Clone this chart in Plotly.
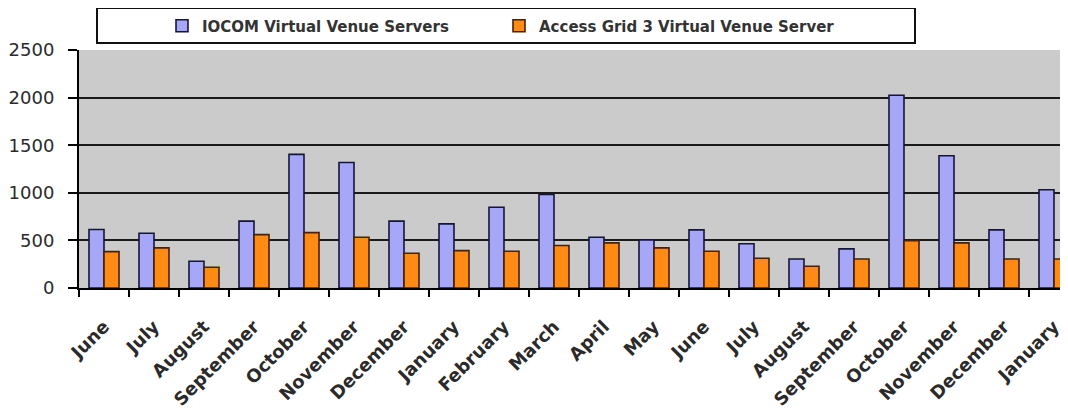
import plotly.graph_objects as go

months = ["June", "July", "August", "September", "October", "November", "December",
          "January", "February", "March", "April", "May", "June", "July", "August",
          "September", "October", "November", "December", "January"]
iocom = [614, 575, 281, 702, 1404, 1319, 702, 674, 849, 982, 533, 505, 611, 465,
         305, 411, 2025, 1389, 611, 1032]
ag3 = [382, 421, 218, 561, 582, 533, 365, 393, 386, 446, 474, 421, 386, 312,
       228, 305, 498, 474, 305, 305]
y_ticks = [0, 500, 1000, 1500, 2000, 2500]
grid_vals = [500, 1000, 1500, 2000]

x = list(range(len(months)))

fig = go.Figure()
fig.add_trace(go.Bar(
    x=x, y=iocom, name="IOCOM Virtual Venue Servers",
    marker=dict(color="#a7a7f7", line=dict(color="#14143c", width=1.6)),
))
fig.add_trace(go.Bar(
    x=x, y=ag3, name="Access Grid 3 Virtual Venue Server",
    marker=dict(color="#ff8a14", line=dict(color="#4a2000", width=1.6)),
))

OFF = 8                      # page offset of the plot div
SW, SH = 1068, 416           # screen size
W, H = SW - OFF, SH - OFF    # figure size
PL, PT, PB = 79, 50, 288     # plot area edges on screen
L = PL - OFF
T = PT - OFF
B = SH - PB
pw = SW - PL
ph = PB - PT
cat_px = 50.0
right_val = -0.5 + pw / cat_px


def px_x(p):
    return (p - PL) / pw


def px_y(p):
    return (PB - p) / ph


fig.update_layout(
    width=W, height=H,
    margin=dict(l=L, r=0, t=T, b=B, pad=0),
    paper_bgcolor="white",
    plot_bgcolor="#cbcbcb",
    barmode="group",
    bargap=0.4,
    bargroupgap=0,
    showlegend=True,
    legend=dict(
        orientation="h",
        x=px_x(162), xanchor="left",
        y=px_y(26), yanchor="middle",
        bgcolor="rgba(0,0,0,0)",
        borderwidth=0,
        font=dict(family="DejaVu Sans", size=15, color="#333333", weight="bold"),
        entrywidth=292, entrywidthmode="pixels",
        itemclick=False,
    ),
    xaxis=dict(
        range=[-0.5, right_val],
        tickmode="array", tickvals=x, ticktext=months,
        tickangle=-45,
        ticks="outside", ticklen=19, tickcolor="rgba(0,0,0,0)",
        tickfont=dict(family="DejaVu Sans", size=18, color="#2a2a2a", weight="bold"),
        showgrid=False, zeroline=False,
        showline=True, linecolor="black", linewidth=2,
        minor=dict(tickmode="array", tickvals=[i - 0.5 for i in x],
                   ticks="outside", ticklen=7, tickwidth=2, tickcolor="black",
                   showgrid=False),
        fixedrange=True,
    ),
    yaxis=dict(
        range=[0, 2500],
        tickmode="array", tickvals=y_ticks,
        ticks="outside", ticklen=9, tickwidth=2, tickcolor="black",
        ticklabelstandoff=10,
        tickfont=dict(family="DejaVu Sans", size=18, color="#2a2a2a"),
        showgrid=False, zeroline=False,
        showline=True, linecolor="black", linewidth=2,
        minor=dict(tickmode="array", tickvals=grid_vals, ticks="",
                   showgrid=True, gridcolor="#1a1a1a", gridwidth=2.2),
        fixedrange=True,
    ),
    shapes=[
        dict(type="rect", xref="paper", yref="paper",
             x0=px_x(97), x1=px_x(915), y0=px_y(43), y1=px_y(8),
             line=dict(color="#111111", width=2), fillcolor="white", layer="below"),
    ],
)

fig.write_html("out.html")
